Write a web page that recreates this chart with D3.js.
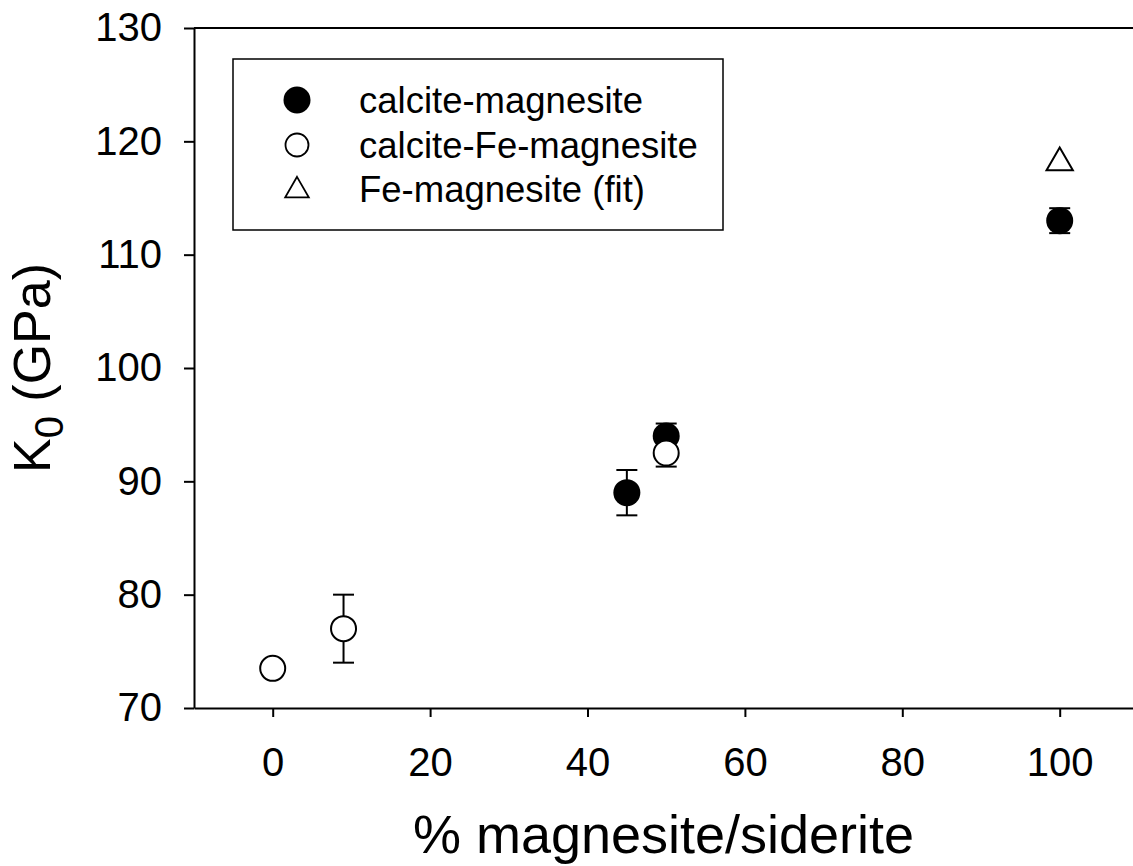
<!DOCTYPE html>
<html>
<head>
<meta charset="utf-8">
<script src="https://cdn.jsdelivr.net/npm/d3@7"></script>
<style>
  body { margin: 0; background: #fff; }
  svg { display: block; font-family: "Liberation Sans", Arial, sans-serif; }
</style>
</head>
<body>
<svg width="1133" height="866"></svg>
<script>
// data
var xTicks = [0, 20, 40, 60, 80, 100],
    yTicks = [70, 80, 90, 100, 110, 120, 130];

var calMagX = [45, 50, 100],
    calMagY = [89, 94, 113],
    calMagErr = [2, 1.1, 1.1];

var calFeMagX = [0, 9, 50],
    calFeMagY = [73.5, 77, 92.5],
    calFeMagErr = [0, 3, 1.2];

var feMagX = [100],
    feMagY = [118.3];

var legendLabels = ["calcite-magnesite", "calcite-Fe-magnesite", "Fe-magnesite (fit)"];

var svg = d3.select("svg"),
    margin = {top: 28, right: 0, bottom: 158, left: 194},
    width = +svg.attr("width") - margin.left - margin.right,
    height = +svg.attr("height") - margin.top - margin.bottom;

var x = d3.scaleLinear().domain([-10, 110]).range([0, 944.4]),
    y = d3.scaleLinear().domain([70, 130]).range([height, 0]);

var g = svg.append("g")
    .attr("transform", "translate(" + margin.left + "," + margin.top + ")");

function zip(xs, ys, es) {
  return xs.map(function(d, i) { return {x: d, y: ys[i], e: es ? es[i] : 0}; });
}
var filled = zip(calMagX, calMagY, calMagErr),
    open = zip(calFeMagX, calFeMagY, calFeMagErr),
    tri = zip(feMagX, feMagY);

// frame line on top
g.append("line")
    .attr("x1", 0).attr("x2", width)
    .attr("y1", 0).attr("y2", 0)
    .style("stroke", "#000").style("stroke-width", 2);

var xAxis = g.append("g")
    .attr("transform", "translate(0," + height + ")")
    .call(d3.axisBottom(x).tickValues(xTicks).tickSize(9).tickSizeOuter(0).tickPadding(31));

var yAxis = g.append("g")
    .call(d3.axisLeft(y).tickValues(yTicks).tickSize(10).tickSizeOuter(0).tickPadding(22));

[xAxis, yAxis].forEach(function(a) {
  a.select(".domain").style("stroke-width", 2);
  a.selectAll(".tick line").style("stroke-width", 2);
  a.selectAll("text").style("font-size", "40px").style("fill", "#000");
});

// error bars
function errorBars(data) {
  var eb = g.append("g").selectAll("g")
    .data(data.filter(function(d) { return d.e > 0; }))
    .enter().append("g")
      .style("stroke", "#000").style("stroke-width", 2);
  eb.append("line")
      .attr("x1", function(d) { return x(d.x); })
      .attr("x2", function(d) { return x(d.x); })
      .attr("y1", function(d) { return y(d.y - d.e); })
      .attr("y2", function(d) { return y(d.y + d.e); });
  [-1, 1].forEach(function(s) {
    eb.append("line")
        .attr("x1", function(d) { return x(d.x) - 10.5; })
        .attr("x2", function(d) { return x(d.x) + 10.5; })
        .attr("y1", function(d) { return y(d.y + s * d.e); })
        .attr("y2", function(d) { return y(d.y + s * d.e); });
  });
}
errorBars(filled);
errorBars(open);

g.selectAll(".filled")
  .data(filled)
  .enter().append("circle")
    .attr("class", "filled")
    .attr("cx", function(d) { return x(d.x); })
    .attr("cy", function(d) { return y(d.y); })
    .attr("r", 13.5)
    .style("fill", "#000");

g.selectAll(".open")
  .data(open)
  .enter().append("circle")
    .attr("class", "open")
    .attr("cx", function(d) { return x(d.x); })
    .attr("cy", function(d) { return y(d.y); })
    .attr("r", 12.5)
    .style("fill", "#fff")
    .style("stroke", "#000")
    .style("stroke-width", 2);

var triSym = d3.symbol().type(d3.symbolTriangle).size(300);
g.selectAll(".tri")
  .data(tri)
  .enter().append("path")
    .attr("class", "tri")
    .attr("transform", function(d) { return "translate(" + x(d.x) + "," + (y(d.y) + 2) + ")"; })
    .attr("d", triSym)
    .style("fill", "#fff")
    .style("stroke", "#000")
    .style("stroke-width", 2);

// legend
var legend = svg.append("g");
legend.append("rect")
    .attr("x", 233).attr("y", 59)
    .attr("width", 490).attr("height", 171)
    .style("fill", "#fff").style("stroke", "#000").style("stroke-width", 1.5);

var rowY = [100, 145, 189];
legend.append("circle").attr("cx", 297).attr("cy", rowY[0]).attr("r", 13.5).style("fill", "#000");
legend.append("circle").attr("cx", 297).attr("cy", rowY[1]).attr("r", 11.5)
    .style("fill", "#fff").style("stroke", "#000").style("stroke-width", 1.8);
legend.append("path")
    .attr("transform", "translate(297," + (rowY[2] + 1.5) + ")")
    .attr("d", d3.symbol().type(d3.symbolTriangle).size(240))
    .style("fill", "#fff").style("stroke", "#000").style("stroke-width", 1.8);

legend.selectAll("text")
  .data(legendLabels)
  .enter().append("text")
    .attr("x", 359)
    .attr("y", function(d, i) { return rowY[i]; })
    .attr("dy", "0.35em")
    .style("font-size", "36.5px")
    .text(function(d) { return d; });

// axis titles
svg.append("text")
    .attr("x", margin.left + (1133 - margin.left) / 2)
    .attr("y", 853)
    .attr("text-anchor", "middle")
    .style("font-size", "54px")
    .text("% magnesite/siderite");

var yt = svg.append("text")
    .attr("transform", "translate(50," + (margin.top + height / 2) + ") rotate(-90)")
    .attr("text-anchor", "middle")
    .style("font-size", "52px");
yt.append("tspan").text("K");
yt.append("tspan").attr("dy", 13).style("font-size", "40px").text("0");
yt.append("tspan").attr("dy", -13).text(" (GPa)");
</script>
</body>
</html>
